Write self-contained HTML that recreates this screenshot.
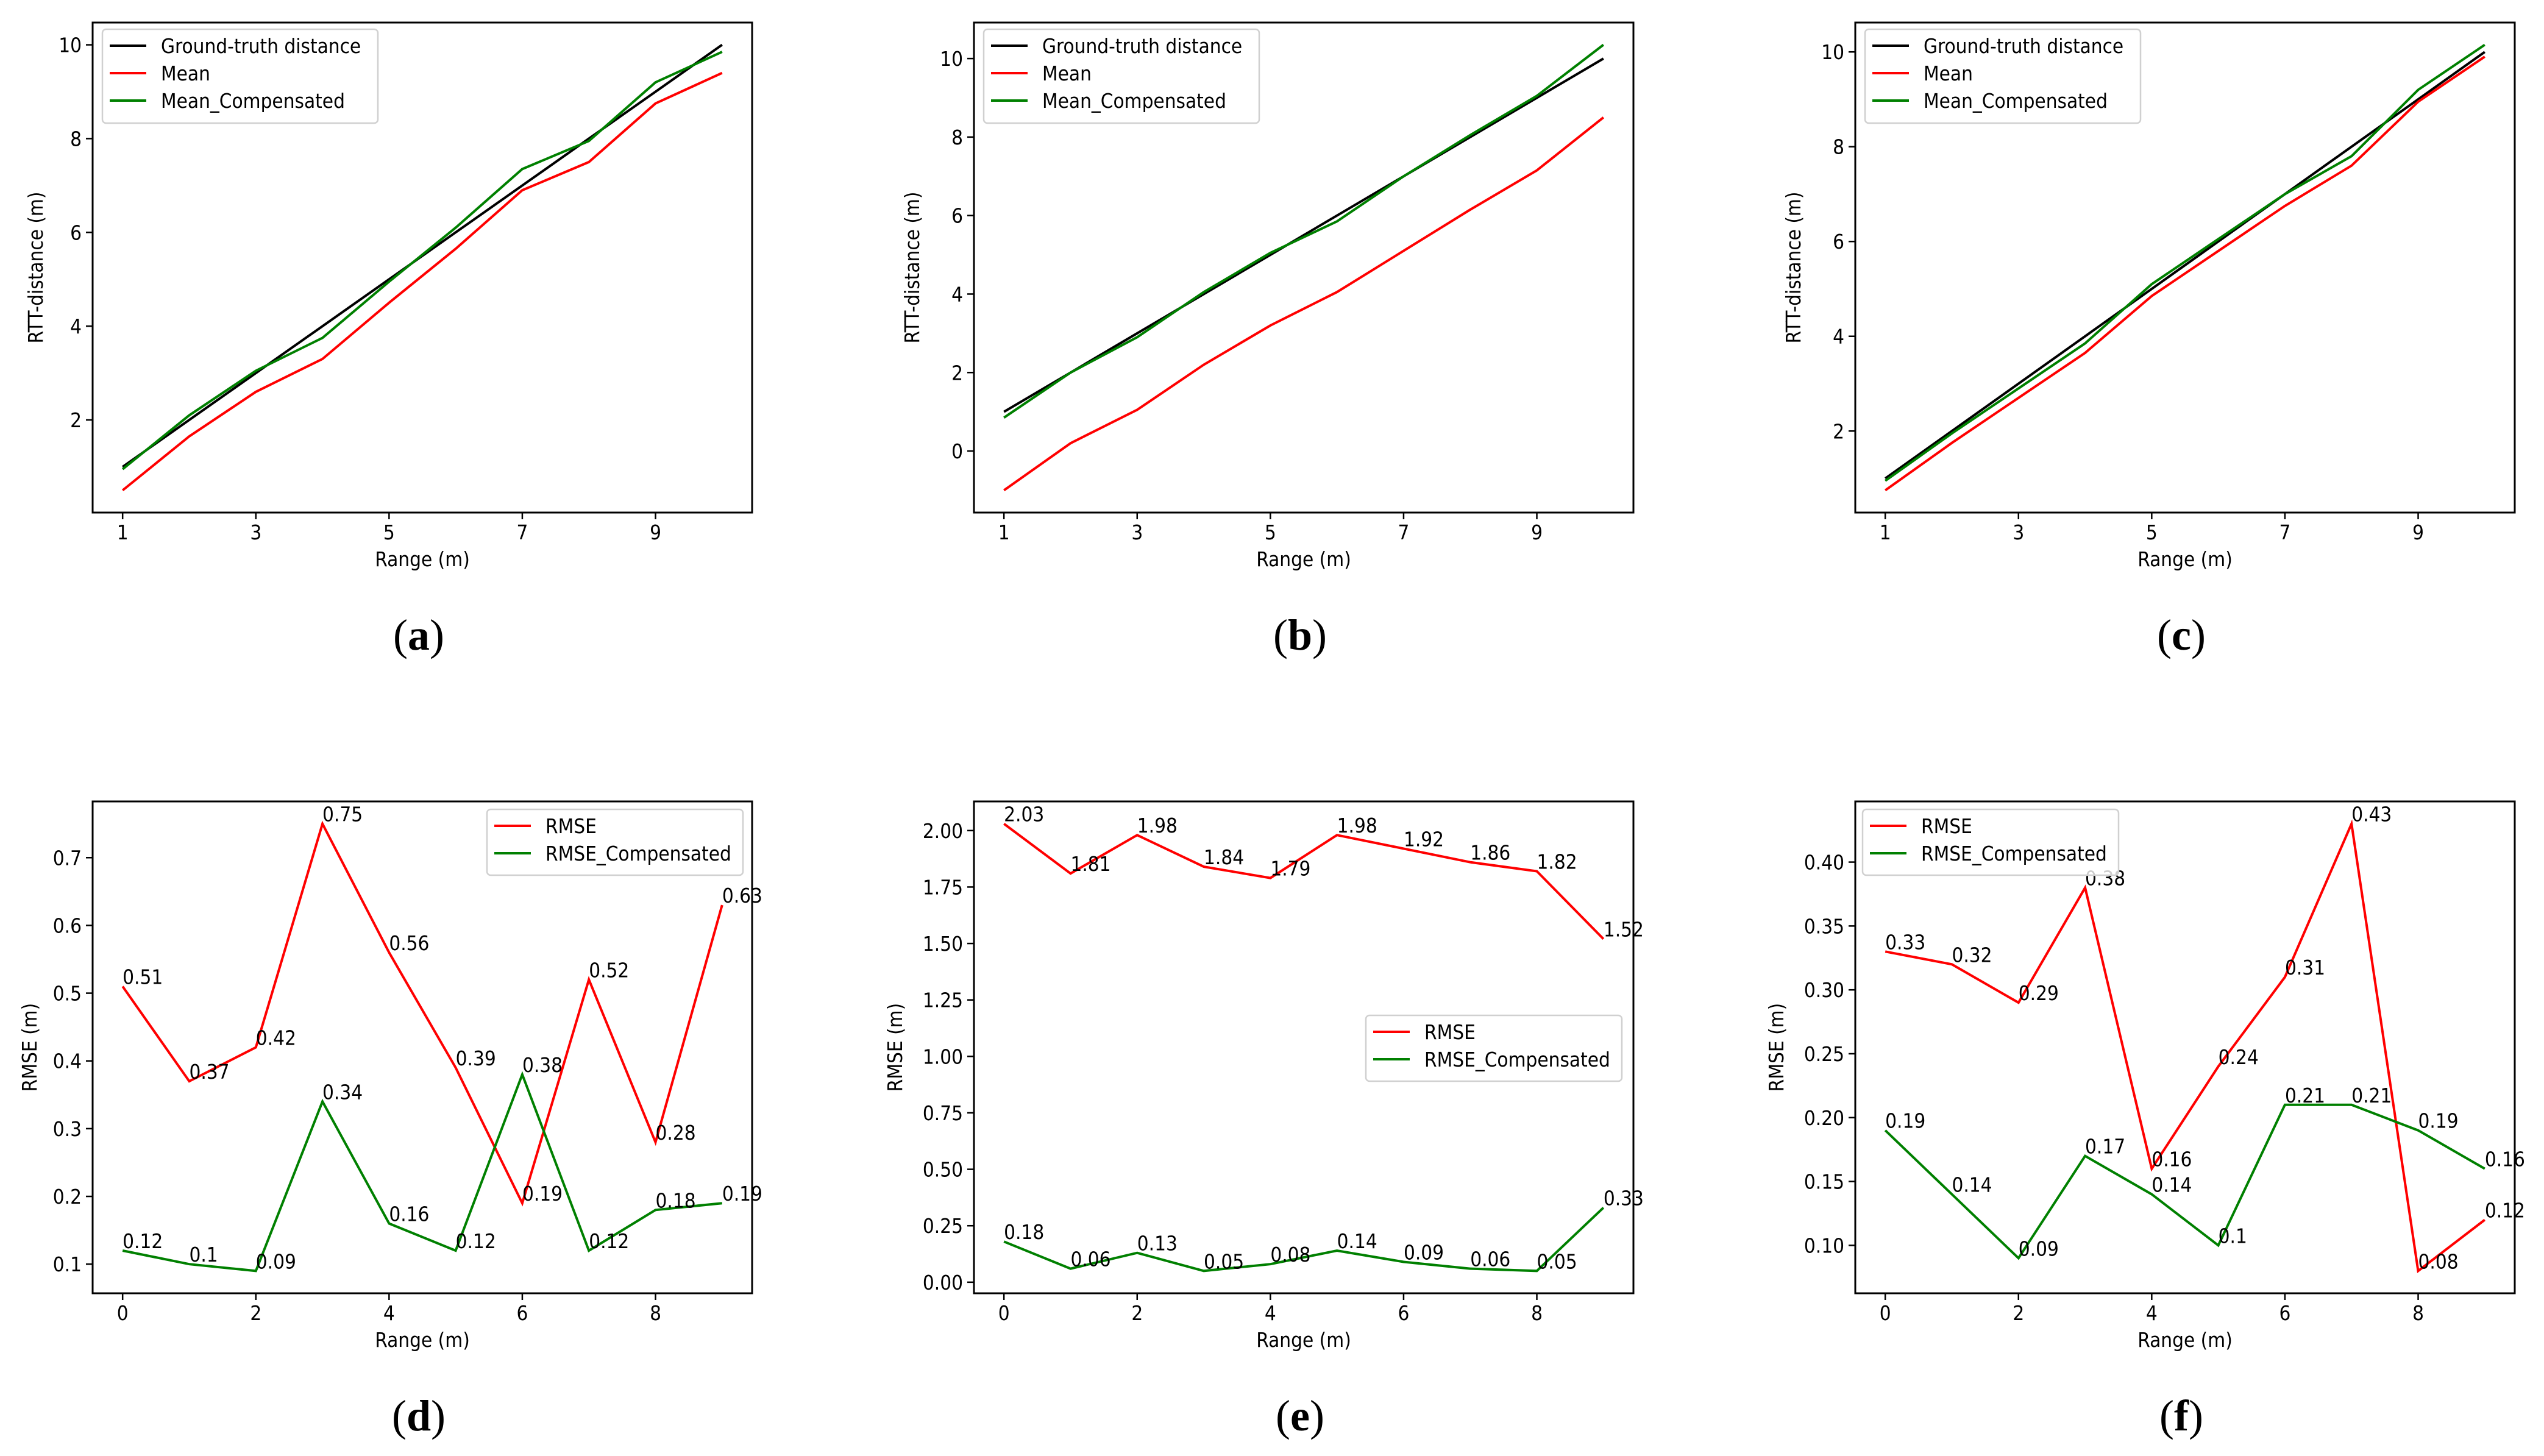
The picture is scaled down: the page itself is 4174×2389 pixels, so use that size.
<!DOCTYPE html>
<html><head><meta charset="utf-8"><style>
html,body{margin:0;padding:0;background:#fff;}
svg{display:block;}
text{font-family:"DejaVu Sans Condensed","DejaVu Sans","Liberation Sans",sans-serif;}
.cap{font-family:"Liberation Serif","DejaVu Serif",serif;}
</style></head><body>
<svg id="fig" width="4174" height="2389" viewBox="0 0 4174 2389" xmlns="http://www.w3.org/2000/svg"></svg>
<script>
// ---- data ----
const rangeTop = [1,2,3,4,5,6,7,8,9,10];
const rangeBottom = [0,1,2,3,4,5,6,7,8,9];
const gtA = [1,2,3,4,5,6,7,8,9,10];
const meanA = [0.5,1.65,2.6,3.3,4.5,5.65,6.9,7.5,8.75,9.4];
const compA = [0.95,2.1,3.05,3.75,4.95,6.1,7.35,7.95,9.2,9.85];
const gtB = [1,2,3,4,5,6,7,8,9,10];
const meanB = [-1.0,0.2,1.05,2.2,3.2,4.05,5.1,6.15,7.15,8.5];
const compB = [0.85,2.0,2.9,4.05,5.05,5.85,7.0,8.05,9.05,10.35];
const gtC = [1,2,3,4,5,6,7,8,9,10];
const meanC = [0.75,1.75,2.7,3.65,4.85,5.8,6.75,7.6,8.95,9.9];
const compC = [0.95,1.95,2.9,3.85,5.1,6.05,7.0,7.8,9.2,10.15];
const rmseD = [0.51,0.37,0.42,0.75,0.56,0.39,0.19,0.52,0.28,0.63];
const rcompD = [0.12,0.1,0.09,0.34,0.16,0.12,0.38,0.12,0.18,0.19];
const rmseE = [2.03,1.81,1.98,1.84,1.79,1.98,1.92,1.86,1.82,1.52];
const rcompE = [0.18,0.06,0.13,0.05,0.08,0.14,0.09,0.06,0.05,0.33];
const rmseF = [0.33,0.32,0.29,0.38,0.16,0.24,0.31,0.43,0.08,0.12];
const rcompF = [0.19,0.14,0.09,0.17,0.14,0.1,0.21,0.21,0.19,0.16];
const xTicksTop = [1,3,5,7,9];
const xTicksBottom = [0,2,4,6,8];
const yTicksA = ["2","4","6","8","10"];
const yTicksB = ["0","2","4","6","8","10"];
const yTicksC = ["2","4","6","8","10"];
const yTicksD = ["0.1","0.2","0.3","0.4","0.5","0.6","0.7"];
const yTicksE = ["0.00","0.25","0.50","0.75","1.00","1.25","1.50","1.75","2.00"];
const yTicksF = ["0.10","0.15","0.20","0.25","0.30","0.35","0.40"];

const NS = "http://www.w3.org/2000/svg";
const svg = document.getElementById('fig');
function mk(tag, attrs, parent){
  const e = document.createElementNS(NS, tag);
  for (const k in attrs) e.setAttribute(k, attrs[k]);
  (parent||svg).appendChild(e);
  return e;
}
function fmt(v){ return String(Math.round(v*100)/100); }

const lefts = [152, 1598, 3044];
const W = 1082;
const rows = [{top:37,bottom:841},{top:1315,bottom:2122}];

function panel(o){
  const g = mk('g', {});
  
  
  const L = o.left, R = o.left + W, T = o.top, B = o.bottom;
  const xs = o.x;
  let xmin = Math.min(...xs), xmax = Math.max(...xs);
  let all = []; o.series.forEach(s => all = all.concat(s.vals));
  let ymin = Math.min(...all), ymax = Math.max(...all);
  const mx = (xmax-xmin)*0.05, my = (ymax-ymin)*0.05;
  xmin -= mx; xmax += mx; ymin -= my; ymax += my;
  const X = v => L + (v - xmin)/(xmax - xmin)*(R - L);
  const Y = v => B - (v - ymin)/(ymax - ymin)*(B - T);
  // series
  o.series.forEach(s => {
    const pts = xs.map((x,i) => X(x).toFixed(1)+','+Y(s.vals[i]).toFixed(1)).join(' ');
    const pl = mk('polyline', {points:pts, fill:'none', stroke:s.color, 'stroke-width':4, 'stroke-linejoin':'miter'}, g);
    
    
    if (o.labels) {
      xs.forEach((x,i) => {
        const t = mk('text', {x:X(x), y:Y(s.vals[i]) - 4, 'font-size':33, fill:'#000'}, g);
        t.textContent = fmt(s.vals[i]);
        
        
      });
    }
  });
  // frame
  const fr = mk('rect', {x:L, y:T, width:W, height:B-T, fill:'none', stroke:'#000', 'stroke-width':3}, g);
  
  
  // x ticks
  o.xt.forEach(v => {
    mk('line', {x1:X(v), x2:X(v), y1:B, y2:B+11, stroke:'#000', 'stroke-width':2.5}, g);
    const t = mk('text', {x:X(v), y:B+44, 'font-size':33, 'text-anchor':'middle'}, g);
    t.textContent = String(v);
    
    
  });
  o.yt.forEach(s => {
    const v = parseFloat(s);
    mk('line', {x1:L-11, x2:L, y1:Y(v), y2:Y(v), stroke:'#000', 'stroke-width':2.5}, g);
    const t = mk('text', {x:L-18, y:Y(v)+12, 'font-size':33, 'text-anchor':'end'}, g);
    t.textContent = s;
    
    
  });
  const xl = mk('text', {x:(L+R)/2, y:B+88, 'font-size':33, 'text-anchor':'middle'}, g);
  xl.textContent = 'Range (m)';
  
  
  const ylx = o.ylx, yly = (T+B)/2;
  const yl = mk('text', {x:ylx, y:yly, 'font-size':33, 'text-anchor':'middle', transform:'rotate(-90 '+ylx+' '+yly+')'}, g);
  yl.textContent = o.ylabel;
  
  
  // legend
  const lg = mk('g', {}, g);
  
  
  const lx = L + o.leg.dx, ly = T + o.leg.dy, lw = o.leg.w, n = o.series.length;
  const lh = n*46 + 16;
  mk('rect', {x:lx, y:ly, width:lw, height:lh, rx:6, fill:'#fff', 'fill-opacity':0.8, stroke:'#d0d0d0', 'stroke-width':2.5}, lg);
  o.series.forEach((s,i) => {
    const cy = ly + 27 + i*45;
    mk('line', {x1:lx+12, x2:lx+72, y1:cy, y2:cy, stroke:s.color, 'stroke-width':4}, lg);
    const t = mk('text', {x:lx+96, y:cy+12, 'font-size':33}, lg);
    t.textContent = s.name;
    
    
  });
  // caption
  const cx = (L+R)/2 - 6, cyy = o.capY;
  const c = mk('text', {x:cx, y:cyy, 'font-size':72, 'text-anchor':'middle', class:'cap'}, g);
  
  
  const t1 = mk('tspan', {}, c); t1.textContent = '(';
  const t2 = mk('tspan', {'font-weight':'bold'}, c); t2.textContent = o.id;
  const t3 = mk('tspan', {}, c); t3.textContent = ')';
}

const topSeries = (gt, mean, comp) => [
  {name:'Ground-truth distance', color:'#000000', vals:gt},
  {name:'Mean', color:'#ff0000', vals:mean},
  {name:'Mean_Compensated', color:'#008000', vals:comp}];
const botSeries = (r, c) => [
  {name:'RMSE', color:'#ff0000', vals:r},
  {name:'RMSE_Compensated', color:'#008000', vals:c}];

const legTop = {dx:16, dy:11, w:452};
panel({id:'a', left:lefts[0], top:rows[0].top, bottom:rows[0].bottom, x:rangeTop, series:topSeries(gtA,meanA,compA), xt:xTicksTop, yt:yTicksA, ylabel:'RTT-distance (m)', ylx:70, leg:legTop, capY:1066});
panel({id:'b', left:lefts[1], top:rows[0].top, bottom:rows[0].bottom, x:rangeTop, series:topSeries(gtB,meanB,compB), xt:xTicksTop, yt:yTicksB, ylabel:'RTT-distance (m)', ylx:lefts[1]-90, leg:legTop, capY:1066});
panel({id:'c', left:lefts[2], top:rows[0].top, bottom:rows[0].bottom, x:rangeTop, series:topSeries(gtC,meanC,compC), xt:xTicksTop, yt:yTicksC, ylabel:'RTT-distance (m)', ylx:lefts[2]-90, leg:legTop, capY:1066});
panel({id:'d', left:lefts[0], top:rows[1].top, bottom:rows[1].bottom, x:rangeBottom, series:botSeries(rmseD,rcompD), xt:xTicksBottom, yt:yTicksD, ylabel:'RMSE (m)', ylx:60, leg:{dx:647, dy:13, w:420}, labels:true, capY:2347});
panel({id:'e', left:lefts[1], top:rows[1].top, bottom:rows[1].bottom, x:rangeBottom, series:botSeries(rmseE,rcompE), xt:xTicksBottom, yt:yTicksE, ylabel:'RMSE (m)', ylx:lefts[1]-118, leg:{dx:643, dy:351, w:420}, labels:true, capY:2347});
panel({id:'f', left:lefts[2], top:rows[1].top, bottom:rows[1].bottom, x:rangeBottom, series:botSeries(rmseF,rcompF), xt:xTicksBottom, yt:yTicksF, ylabel:'RMSE (m)', ylx:lefts[2]-118, leg:{dx:12, dy:13, w:420}, labels:true, capY:2347});
</script>
</body></html>
